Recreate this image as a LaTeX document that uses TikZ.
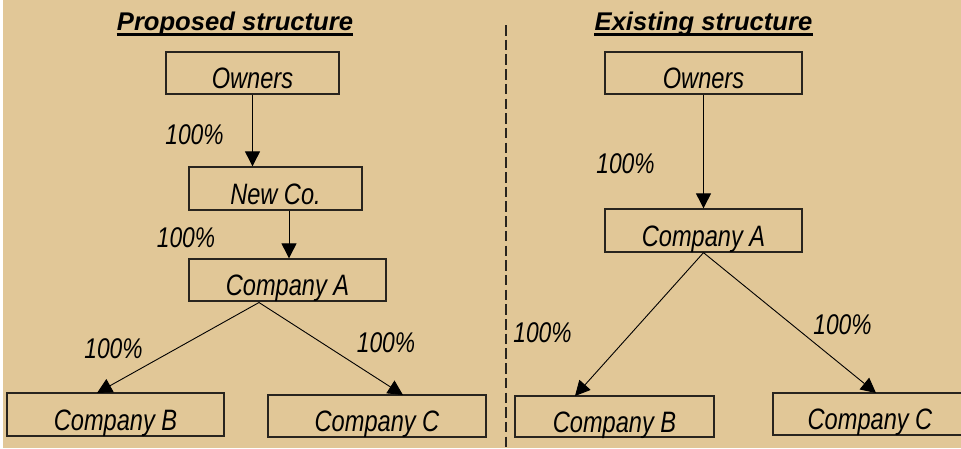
\documentclass[tikz,border=0pt]{standalone}
\usepackage{fontspec}
\setmainfont{Liberation Sans}
\usetikzlibrary{arrows.meta}
\definecolor{tanbg}{RGB}{225,199,151}
\definecolor{boxline}{RGB}{40,36,30}
\newcommand{\boxtxt}[1]{\fontsize{23.6}{28}\selectfont\scalebox{1}[1.25]{\itshape #1}}
\newcommand{\pcttxt}[1]{\fontsize{22.8}{27}\selectfont\scalebox{1}[1.25]{\itshape #1}}
\tikzset{
  box/.style={draw=boxline, line width=1.3pt, inner sep=0pt, text height=31pt, text depth=0pt, align=center},
  pct/.style={inner sep=0pt, text depth=0pt},
  ttl/.style={inner sep=0pt, text depth=0pt, anchor=base, font=\fontsize{25.6}{30}\selectfont\bfseries\itshape},
  conn/.style={draw=black, line width=0.9pt, -{Triangle[width=15pt,length=15pt]}},
  uline/.style={line width=3pt},
}
\begin{document}
\begin{tikzpicture}[x=1pt,y=-1pt]
\fill[tanbg] (0,0) rectangle (961,448);
\fill[white] (0,0) rectangle (2.5,448);
\useasboundingbox (0,0) rectangle (961,448);

% Titles
\node[ttl] (t1) at (235,30) {Proposed structure};
\node[ttl] (t2) at (703.5,30) {Existing structure};
\draw[uline] ([yshift=-4.5pt]t1.south west) -- ([yshift=-4.5pt]t1.south east);
\draw[uline] ([yshift=-4.5pt]t2.south west) -- ([yshift=-4.5pt]t2.south east);

% Divider
\coordinate (dtop) at (506,25);
\coordinate (dbot) at (506,448);
\draw[boxline, line width=1.6pt, dash pattern=on 10.5pt off 4.2pt] (dtop) -- (dbot);

% Left: proposed
\node[box, minimum width=173pt, minimum height=42pt] (lo) at (252.5,73) {\boxtxt{Owners}};
\node[box, minimum width=173pt, minimum height=43pt] (ln) at (275.5,188.5) {\boxtxt{New Co.}};
\node[box, minimum width=197pt, minimum height=42pt] (la) at (287.5,280) {\boxtxt{Company A}};
\node[box, minimum width=217pt, minimum height=43pt] (lb) at (115.5,414.5) {\boxtxt{Company B}};
\node[box, minimum width=218pt, minimum height=42pt] (lc) at (377,416) {\boxtxt{Company C}};

\draw[conn] (lo.south) -- (lo.south |- ln.north);
\draw[conn] ([xshift=1.5pt]la.north |- ln.south) -- ([xshift=1.5pt]la.north);
\coordinate (las) at (259,302.5);
\coordinate (lbt) at (97,393);
\coordinate (lct) at (403,395);
\draw[conn] (las) -- (lbt);
\draw[conn] (las) -- (lct);

\node[pct] (p1) at (194.5,135) {\pcttxt{100\%}};
\node[pct] (p2) at (186,238) {\pcttxt{100\%}};
\node[pct] (p3) at (113.5,349) {\pcttxt{100\%}};
\node[pct] (p4) at (386,343) {\pcttxt{100\%}};

% Right: existing
\node[box, minimum width=197pt, minimum height=42pt] (ro) at (703.5,73) {\boxtxt{Owners}};
\node[box, minimum width=197pt, minimum height=43pt] (ra) at (703.5,230.5) {\boxtxt{Company A}};
\node[box, minimum width=199pt, minimum height=41pt] (rb) at (614.5,416.5) {\boxtxt{Company B}};
\node[box, minimum width=210pt, minimum height=42pt] (rc) at (878,414) {\hspace*{-16pt}\boxtxt{Company C}};

\draw[conn] (ro.south) -- (ra.north);
\coordinate (rbt) at (575,396);
\coordinate (rct) at (876,393);
\draw[conn] (ra.south) -- (rbt);
\draw[conn] (ra.south) -- (rct);

\node[pct] (q1) at (625.5,164) {\pcttxt{100\%}};
\node[pct] (q2) at (542.5,332.5) {\pcttxt{100\%}};
\node[pct] (q3) at (842.5,325) {\pcttxt{100\%}};
\end{tikzpicture}
\end{document}
